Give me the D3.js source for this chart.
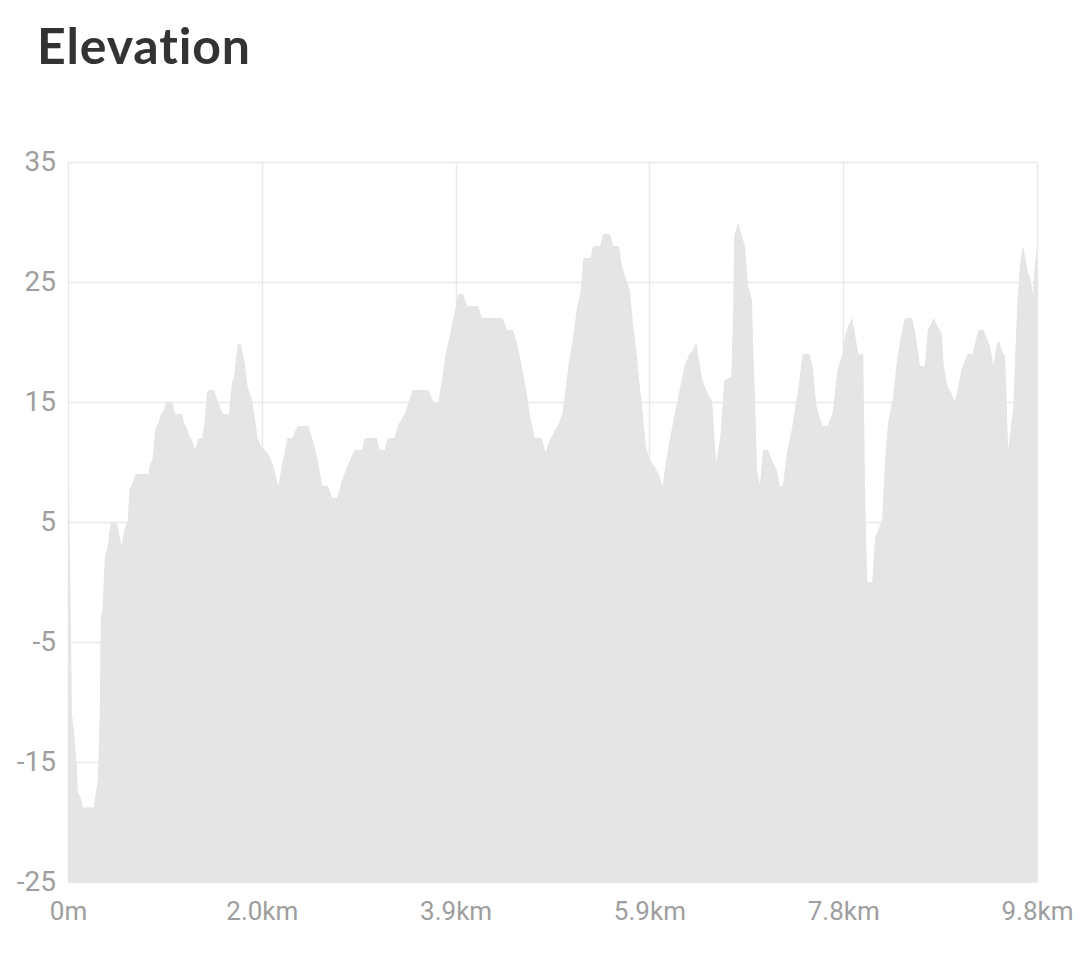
<!DOCTYPE html>
<html>
<head>
<meta charset="utf-8">
<script src="https://cdn.jsdelivr.net/npm/d3@7"></script>
<style>
  html, body { margin: 0; padding: 0; background: #fff; }
  svg { display: block; }
</style>
</head>
<body>
<svg id="chart" width="1080" height="954"></svg>
<script>
// ---- data ----
const distanceKm = [
  0, 0.02, 0.04, 0.06, 0.09, 0.10, 0.13, 0.15, 0.26, 0.28, 0.30, 0.32, 0.33, 0.35, 0.37, 0.40,
  0.43, 0.49, 0.52, 0.54, 0.57, 0.60, 0.62, 0.65, 0.68, 0.81, 0.83, 0.85, 0.88, 0.91, 0.93, 0.96,
  0.99, 1.05, 1.08, 1.15, 1.17, 1.20, 1.23, 1.25, 1.28, 1.31, 1.35, 1.37, 1.40, 1.42, 1.47, 1.51,
  1.56, 1.62, 1.65, 1.67, 1.71, 1.74, 1.78, 1.81, 1.85, 1.88, 1.91, 1.95, 2.01, 2.06, 2.12, 2.16,
  2.21, 2.26, 2.31, 2.42, 2.47, 2.52, 2.56, 2.62, 2.66, 2.71, 2.76, 2.82, 2.89, 2.96, 2.99, 3.11,
  3.14, 3.19, 3.22, 3.29, 3.32, 3.39, 3.44, 3.47, 3.63, 3.68, 3.73, 3.77, 3.81, 3.84, 3.88, 3.91,
  3.93, 3.98, 4.02, 4.13, 4.17, 4.38, 4.42, 4.48, 4.52, 4.57, 4.62, 4.65, 4.70, 4.77, 4.81, 4.85,
  4.93, 4.98, 5.01, 5.04, 5.09, 5.13, 5.16, 5.19, 5.26, 5.29, 5.36, 5.39, 5.46, 5.49, 5.55, 5.58,
  5.63, 5.66, 5.69, 5.73, 5.76, 5.79, 5.82, 5.86, 5.91, 5.96, 5.99, 6.02, 6.06, 6.11, 6.16, 6.21,
  6.26, 6.29, 6.33, 6.35, 6.39, 6.44, 6.49, 6.51, 6.53, 6.57, 6.61, 6.65, 6.68, 6.70, 6.71, 6.75,
  6.79, 6.82, 6.85, 6.89, 6.90, 6.92, 6.94, 6.97, 7.00, 7.05, 7.10, 7.14, 7.17, 7.20, 7.24, 7.29,
  7.32, 7.35, 7.40, 7.47, 7.50, 7.54, 7.57, 7.60, 7.65, 7.70, 7.75, 7.80, 7.83, 7.86, 7.90, 7.93,
  7.96, 8.01, 8.03, 8.05, 8.10, 8.13, 8.16, 8.20, 8.23, 8.26, 8.31, 8.35, 8.38, 8.41, 8.43, 8.50,
  8.53, 8.56, 8.58, 8.63, 8.66, 8.70, 8.72, 8.76, 8.80, 8.82, 8.86, 8.90, 8.93, 8.96, 9.00, 9.05,
  9.06, 9.11, 9.16, 9.17, 9.22, 9.26, 9.29, 9.32, 9.36, 9.38, 9.42, 9.44, 9.47, 9.51, 9.52, 9.56,
  9.59, 9.62, 9.65, 9.67, 9.69, 9.72, 9.73, 9.76
];
const elevationM = [
  9, 2, -11, -12.5, -15.5, -17.5, -18, -18.8, -18.8, -17.5, -16.5, -11, -3, -2, 2, 3,
  5, 5, 3.8, 3, 4.5, 5, 7.8, 8.2, 9, 9, 9.9, 10.2, 12.8, 13.2, 13.9, 14.2,
  15, 15, 14, 14, 13.2, 12.8, 12, 11.8, 11, 11.9, 12, 12.9, 15.8, 16, 16, 15,
  14, 14, 16.6, 17, 19.9, 19.8, 18.3, 16.2, 15.3, 13.8, 12, 11.2, 10.8, 9.9, 8, 10,
  12, 12, 13, 13, 11.7, 10, 8, 8, 7, 7, 8.5, 9.8, 11, 11, 12, 12,
  11, 11, 12, 12, 13, 14, 15.2, 16, 16, 15, 15, 17, 19.3, 20.3, 22, 23,
  24, 24, 23, 23, 22, 22, 21, 21, 20, 18, 15.8, 14, 12, 12, 10.8, 11.8,
  13, 14, 16, 18, 20.6, 23, 24, 27, 27, 28, 28, 29, 29, 28, 28, 26.3,
  25, 24.3, 21.6, 18.8, 16.3, 14, 11.3, 10.2, 9.6, 8.8, 8, 9.9, 11.8, 14, 16, 18,
  19, 19.3, 20, 18.8, 16.8, 15.8, 15, 12.1, 10, 12, 16.8, 17, 17, 22.7, 28.8, 30,
  28.7, 28, 24.6, 23.5, 19.9, 15.4, 9.3, 8.1, 11, 11, 10, 9.3, 8, 8, 10.7, 12.7,
  14.3, 15.8, 19, 19, 18, 14.6, 13.8, 13, 13, 14, 17.7, 19, 20.6, 21.4, 22, 20.5,
  19, 19, 6.8, 0, 0, 3.8, 4.3, 5.2, 10.2, 13.2, 15.4, 18.5, 20, 21.3, 22, 22,
  21, 19.3, 18, 18, 21, 21.6, 22, 21.3, 20.7, 18, 16.3, 15.7, 15, 16, 17.7, 18.8,
  19, 19, 20.7, 21, 21, 20.2, 19.6, 18, 20, 20, 19, 18.8, 11, 13.8, 14.3, 23,
  26.6, 28, 26.6, 25.8, 25.4, 24, 25.7, 28
];
const yTicks = [-25, -15, -5, 5, 15, 25, 35];
const yTickLabels = ["-25", "-15", "-5", "5", "15", "25", "35"];
const xTickKm = [0, 1.952, 3.904, 5.856, 7.808, 9.76];
const xTickLabels = ["0m", "2.0km", "3.9km", "5.9km", "7.8km", "9.8km"];
const titleText = "Elevation";

// ---- layout ----
const svg = d3.select("#chart");
const margin = { left: 68, right: 1037, top: 162, bottom: 882 };

const x = d3.scaleLinear().domain([0, 9.76]).range([margin.left, margin.right]);
const y = d3.scaleLinear().domain([-25, 35]).range([margin.bottom, margin.top]);

const points = distanceKm.map((d, i) => ({ d, e: elevationM[i] }));

// title
svg.append("text")
  .attr("x", 37)
  .attr("y", 64)
  .attr("font-family", "Lato, 'Open Sans', sans-serif")
  .attr("font-weight", 700)
  .attr("font-size", 50)
  .attr("fill", "#333")
  .attr("textLength", 213)
  .attr("lengthAdjust", "spacing")
  .style("font-variant-ligatures", "none")
  .style("font-feature-settings", "'liga' 0, 'dlig' 0")
  .text(titleText);

// grid
const grid = svg.append("g");
grid.selectAll("line.h").data(yTicks).join("line")
  .attr("x1", margin.left).attr("x2", margin.right)
  .attr("y1", d => y(d) + 0.5).attr("y2", d => y(d) + 0.5)
  .attr("stroke", "#e9e9e9").attr("stroke-width", 1.5);
grid.selectAll("line.v").data(xTickKm).join("line")
  .attr("x1", d => Math.round(x(d)) + 0.5).attr("x2", d => Math.round(x(d)) + 0.5)
  .attr("y1", margin.top).attr("y2", margin.bottom)
  .attr("stroke", "#e9e9e9").attr("stroke-width", 1.5);

// area
const area = d3.area()
  .x(p => x(p.d))
  .y0(y(-25))
  .y1(p => y(p.e))
  .curve(d3.curveLinear);
svg.append("path")
  .datum(points)
  .attr("d", area)
  .attr("fill", "#e5e5e5");

// y axis labels
const yAxis = d3.axisLeft(y).tickValues(yTicks)
  .tickFormat((d, i) => yTickLabels[i]).tickSize(0).tickPadding(12);
const gy = svg.append("g").attr("transform", `translate(${margin.left},0)`).call(yAxis);
gy.select(".domain").remove();
gy.selectAll("text")
  .attr("font-family", "Roboto, sans-serif")
  .attr("font-size", 28)
  .attr("fill", "#9e9e9e");

// x axis labels
const xAxis = d3.axisBottom(x).tickValues(xTickKm)
  .tickFormat((d, i) => xTickLabels[i]).tickSize(0).tickPadding(20);
const gx = svg.append("g").attr("transform", `translate(0,${margin.bottom})`).call(xAxis);
gx.select(".domain").remove();
gx.selectAll("text")
  .attr("font-family", "Roboto, sans-serif")
  .attr("font-size", 26)
  .attr("fill", "#9e9e9e");
</script>
</body>
</html>
